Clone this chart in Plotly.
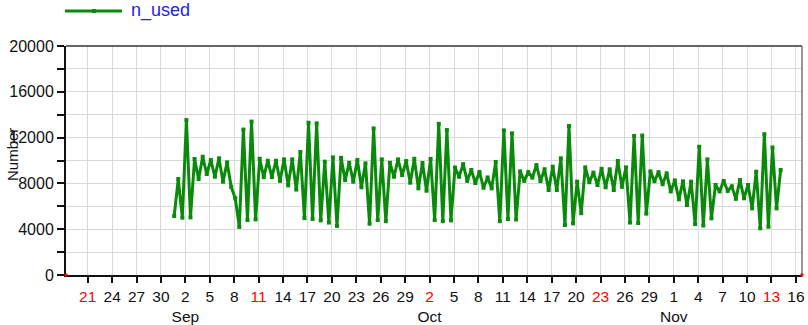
import pandas as pd
import plotly.graph_objects as go

# Twice-daily counts, first sample on 31 Aug 2016 15:00
series_start = "2016-08-31 15:00"
series_step = "12h"
n_used = [
    5150, 8380, 5005, 13530, 5035, 10130, 8380, 10330, 8820, 10040,
    8580, 10190, 8150, 9840, 7700, 6700, 4200, 12700, 4800, 13400,
    4860, 10150, 8550, 9980, 8550, 9980, 8220, 10100, 7830, 10100,
    7460, 10740, 4970, 13300, 4900, 13240, 4770, 9900, 4580, 10270,
    4290, 10230, 8290, 9800, 8150, 10040, 7660, 9750, 4480, 12800,
    4800, 10100, 4700, 9800, 8580, 10100, 8730, 9950, 8060, 10150,
    7570, 9780, 7360, 10130, 4800, 13200, 4700, 12660, 4770, 9390,
    8580, 9680, 8220, 9170, 8030, 9000, 7620, 8520, 7570, 9870,
    4700, 12630, 4880, 12370, 4850, 9050, 8220, 8980, 8500, 9600,
    8200, 9240, 7420, 9460, 7420, 10190, 4370, 13010, 4510, 8150,
    5400, 9400, 8100, 8940, 7860, 9270, 7660, 9230, 7420, 9960,
    7700, 9400, 4580, 12140, 4540, 12180, 5360, 9050, 8190, 8980,
    7930, 8880, 7300, 8260, 6610, 8180, 6110, 8150, 4450, 11200,
    4320, 10100, 4950, 7860, 7300, 8210, 7350, 7740, 6650, 8290,
    6700, 7860, 5820, 9020, 4080, 12300, 4220, 11140, 5820, 9170,
]
times = pd.date_range(series_start, periods=len(n_used), freq=series_step)

# x axis: a tick every 3 days, Sundays in red, month name under its first tick
x_range = ["2016-08-18 08:00", "2016-11-16 18:00"]
tick_dates = pd.date_range("2016-08-21", "2016-11-16", freq="3D")
tick_text = []
prev_month = tick_dates[0].month
for i, d in enumerate(tick_dates):
    day = str(d.day)
    if d.weekday() == 6:
        day = f'<span style="color:#ff0000">{day}</span>'
    if i > 0 and d.month != prev_month:
        day += "<br>" + d.strftime("%b")
    prev_month = d.month
    tick_text.append(day)

# y axis: grid every 2000, labels every 4000
y_tickvals = list(range(0, 20001, 2000))
y_ticktext = [str(v) if v % 4000 == 0 else "" for v in y_tickvals]

GREEN = "#0a8a0a"
FONT = "Liberation Sans, Arial, sans-serif"

fig = go.Figure()
fig.add_trace(go.Scatter(
    x=times, y=n_used, mode="lines+markers", name="n_used",
    line=dict(color=GREEN, width=3),
    marker=dict(color=GREEN, size=4, symbol="square"),
    showlegend=False,
))

W, H = 808, 325
ml, mr, mt, mb = 66, 6, 46, 50
pw, ph = W - ml - mr, H - mt - mb


def px_x(px):
    return (px - ml) / pw


def px_y(py):
    return (H - mb - py) / ph


shapes = [
    # top and right frame
    dict(type="line", xref="paper", yref="paper", x0=0, x1=1, y0=1, y1=1,
         line=dict(color="#333333", width=1.5)),
    dict(type="line", xref="paper", yref="paper", x0=1, x1=1, y0=0, y1=1,
         line=dict(color="#777777", width=1.5)),
    # legend sample line and its marker
    dict(type="line", xref="paper", yref="paper", x0=px_x(65), x1=px_x(122),
         y0=px_y(11), y1=px_y(11), line=dict(color=GREEN, width=3)),
    dict(type="rect", xref="paper", yref="paper", x0=px_x(92), x1=px_x(96),
         y0=px_y(13), y1=px_y(9), fillcolor=GREEN, line=dict(width=0)),
    # red end markers on the time axis
    dict(type="rect", xref="paper", yref="paper", x0=px_x(64.5), x1=px_x(67.5),
         y0=px_y(276.5), y1=px_y(273.5), fillcolor="#ff0000", line=dict(width=0)),
    dict(type="rect", xref="paper", yref="paper", x0=px_x(800.5), x1=px_x(803.5),
         y0=px_y(276.5), y1=px_y(273.5), fillcolor="#ff0000", line=dict(width=0)),
]

annotations = [
    dict(text="n_used", xref="paper", yref="paper", x=px_x(129), y=px_y(11),
         xanchor="left", yanchor="middle", showarrow=False,
         font=dict(family=FONT, size=18, color="#2222ee")),
    dict(text="Number", xref="paper", yref="paper", x=px_x(12), y=px_y(154),
         xanchor="center", yanchor="middle", textangle=-90, showarrow=False,
         font=dict(family=FONT, size=15, color="#111111")),
]

fig.update_layout(
    width=W, height=H, autosize=False,
    margin=dict(l=ml, r=mr, t=mt, b=mb, pad=0),
    paper_bgcolor="white", plot_bgcolor="white",
    font=dict(family=FONT, size=15, color="#111111"),
    shapes=shapes, annotations=annotations,
    xaxis=dict(
        type="date", range=x_range, automargin=False,
        tickmode="array", tickvals=tick_dates, ticktext=tick_text,
        tickangle=0,
        ticks="outside", ticklen=6, tickwidth=1.5, tickcolor="#111111",
        tickfont=dict(family=FONT, size=15.5, color="#111111"),
        showgrid=True, gridcolor="#d9d9d9", gridwidth=1,
        showline=True, linecolor="#111111", linewidth=2,
        zeroline=False,
    ),
    yaxis=dict(
        range=[0, 20000], automargin=False,
        tickmode="array", tickvals=y_tickvals, ticktext=y_ticktext,
        ticks="outside", ticklen=7, tickwidth=1.5, tickcolor="#111111",
        tickfont=dict(family=FONT, size=16, color="#111111"),
        showgrid=True, gridcolor="#d9d9d9", gridwidth=1,
        showline=True, linecolor="#111111", linewidth=2,
        zeroline=False,
    ),
)

fig.write_html("out.html")
